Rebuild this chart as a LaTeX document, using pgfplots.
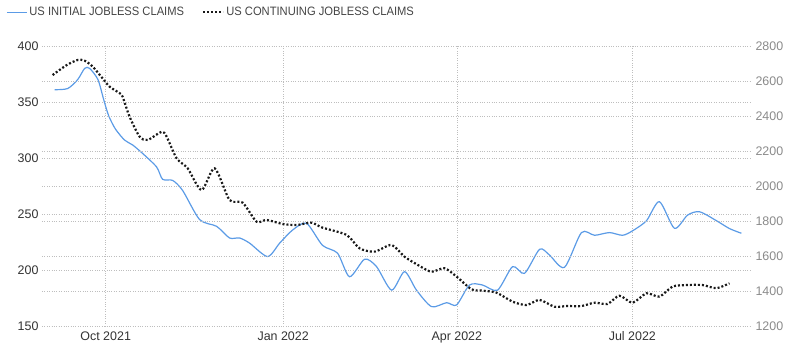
\documentclass[border=0pt]{standalone}
\usepackage{pgfplots}
\pgfplotsset{compat=1.18}
\usepackage{fontspec}
\setmainfont{Liberation Sans}
\newfontfamily\legfont[FakeStretch=0.92]{Liberation Sans}
\definecolor{blueline}{HTML}{5B9BE6}
\definecolor{gridc}{HTML}{BEBEBE}
\definecolor{lefttick}{HTML}{333333}
\definecolor{righttick}{HTML}{8A8A8A}
\definecolor{legtext}{HTML}{444444}
\begin{document}
\begin{tikzpicture}
\path[use as bounding box] (-42bp,-28bp) rectangle (758bp,326bp);
\pgfplotsset{
 common/.style={width=710bp, height=280bp, scale only axis, xmin=-33, xmax=335,
  axis line style={draw=none}, tick style={draw=none},
  /pgf/number format/assume math mode=true,
  /pgf/number format/1000 sep={},
  grid style={gridc, dotted, line width=0.6bp},
  clip=false,
 }
}
\begin{axis}[common, ymin=150, ymax=400, ytick={150,200,...,400},
  xtick={0,92,182,273}, xticklabels={Oct 2021,Jan 2022,Apr 2022,Jul 2022},
  xmajorgrids, ymajorgrids,
  yticklabel style={font=\fontsize{12.5}{13}\selectfont, text=lefttick},
  xticklabel style={font=\fontsize{12.5}{13}\selectfont, text=lefttick, yshift=-2bp},
]
\addplot[blueline, line width=1.2bp, smooth, tension=0.45] coordinates {
(-26.4,361) (-19.7,362) (-14.5,370) (-10.9,380) (-8.3,380) (-4,370) (-1,352) (1.5,338) (5,326) (9.8,316)
(14,311.6) (19.2,304) (26.4,292) (29.5,281) (34.7,280) (39.9,271) (48.7,245) (57.5,239)
(64.2,228.6) (69.4,228.6) (74.6,224) (83.9,212) (90.2,224) (96.9,235.7) (104.1,241.7)
(112.4,222) (120.2,215) (126.4,194) (134.2,209.6) (140.4,203) (148.2,182) (154.9,198.5)
(161.1,182) (168.9,167.3) (176.7,170.8) (181.9,168.8) (188.6,186.6) (195.3,186.6)
(203.1,182) (210.9,203) (217.1,197) (224.9,218.5) (230,213.4) (237.8,202.4) (246.6,233.4)
(253.4,231) (261.1,233.4) (267.9,231) (273.1,235) (280.3,244) (287,261) (294.8,237.2)
(301.6,249) (307.8,252) (316.6,244) (323.3,237) (329.5,232.8)
};
\end{axis}
\begin{axis}[common, ymin=1200, ymax=2800, ytick={1200,1400,...,2800},
  axis y line*=right, axis x line=none, xtick=\empty,
  ymajorgrids,
  yticklabel style={font=\fontsize{12.5}{13}\selectfont, text=righttick},
  legend columns=2,
  legend style={at={(-0.0507,1.121)}, anchor=west, draw=none, fill=none,
    inner xsep=0pt, inner ysep=0pt,
    font=\legfont\fontsize{12.2}{13}\selectfont, text=legtext,
    /tikz/every even column/.append style={column sep=16bp}},
  legend image code/.code={\draw[#1] (0bp,0bp) -- (20bp,0bp);},
]
\addlegendimage{blueline, line width=1.2bp}
\addlegendentry{US INITIAL JOBLESS CLAIMS}
\addplot[black!90, line width=2.2bp, dash pattern=on 2bp off 2bp, smooth, tension=0.45] coordinates {
(-27.5,2634) (-20.2,2691) (-14.5,2720) (-10.9,2716) (-6.7,2682) (-1.6,2615) (2.1,2567)
(7.3,2530) (8.8,2510) (12.4,2396) (17.6,2282) (21.8,2263) (29,2310) (31.6,2282)
(36.8,2158) (42.5,2101) (49.7,1977) (56.5,2101) (64.2,1920) (71,1905) (78.2,1796)
(83.4,1806) (91.7,1783) (99,1777) (106.7,1790) (112.4,1762) (124.9,1720) (131.6,1644)
(139.4,1625) (148.2,1663) (154.9,1596) (162.7,1543) (168.9,1510) (175.6,1530)
(181.9,1482) (189.6,1410) (195.3,1402) (202.6,1390) (210.9,1339) (218.1,1320)
(224.9,1349) (232.6,1310) (238.9,1314) (246.6,1314) (253.4,1333) (260.1,1326)
(266.3,1373) (273.1,1333) (280.3,1387) (287,1368) (293.8,1425) (301,1434) (309.3,1434)
(316.6,1416) (323.3,1444)
};
\addlegendentry{US CONTINUING JOBLESS CLAIMS}
\end{axis}
\end{tikzpicture}
\end{document}
